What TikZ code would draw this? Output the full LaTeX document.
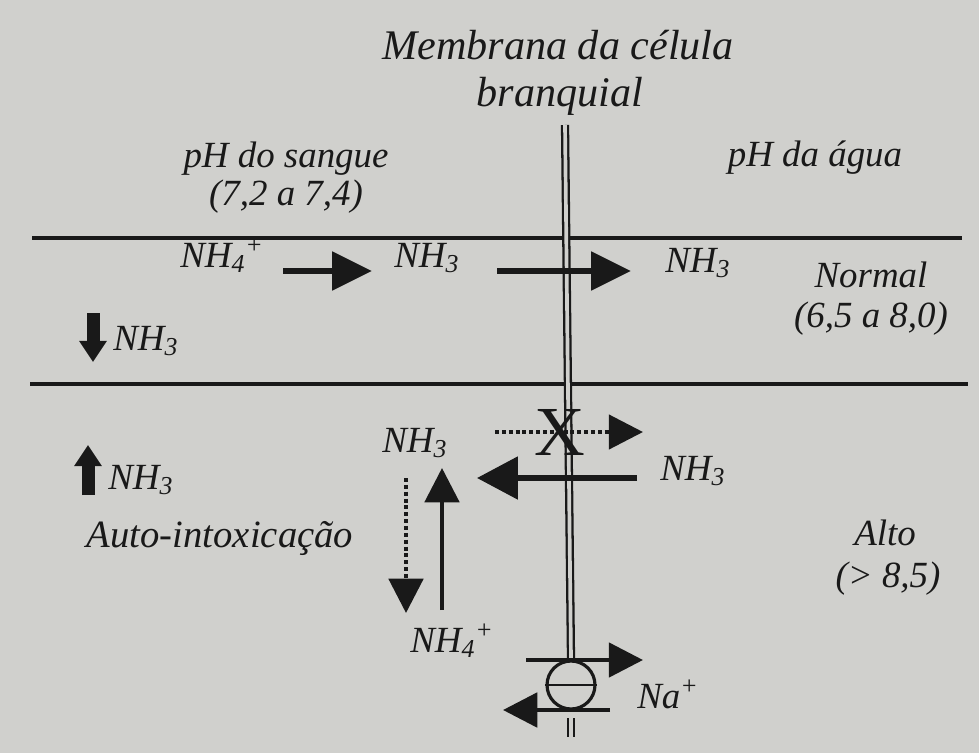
\documentclass[tikz,border=0pt]{standalone}
\usepackage{fontspec}
\setmainfont{Liberation Serif}
\usetikzlibrary{arrows.meta}
\definecolor{paper}{RGB}{208,208,205}
\definecolor{ink}{RGB}{25,25,25}
\begin{document}
\begin{tikzpicture}[x=0.02cm,y=-0.02cm]
  \tikzset{lbl/.style={text=ink, inner sep=0pt, anchor=base, font=\fontsize{21}{24}\selectfont\itshape},
    head/.style={lbl, font=\fontsize{24}{28}\selectfont\itshape},
    bigarrow/.style={draw=ink, line width=3.4pt, -{Triangle[length=22.7pt,width=21.5pt]}},
    blockarrow/.style={draw=ink, line width=7.4pt, -{Triangle[length=12pt,width=15pt]}},
    midarrow/.style={draw=ink, line width=2.5pt, -{Triangle[length=19.5pt,width=19.5pt]}},
    dotarrow/.style={midarrow, line width=2.3pt, dash pattern=on 2.3pt off 1.6pt},
    membrane/.style={draw=ink, line width=1.3pt, double=paper, double distance=2.1pt},
    pumpc/.style={draw=ink, line width=1.8pt, circle, inner sep=0pt, minimum size=0.96cm}}
  \fill[paper] (0,0) rectangle (979,753);

  % compartments
  \draw[ink, line width=1.8pt] (32,238) -- (962,238);
  \draw[ink, line width=1.8pt] (30,384) -- (968,384);

  \node[pumpc] at (571,685) (pump) {};
  \coordinate (memtop) at (565,125);
  \coordinate (membot) at (571,718);
  \coordinate (memend) at (571,737);
  \draw[membrane] (memtop) -- (pump.north);
  \draw[membrane] (membot) -- (memend);
  \draw[ink, line width=1.6pt] (pump.west) -- (pump.east);

  \node[head] at (558,60) (memb1) {Membrana da célula};
  \node[head] at (560,107) (memb2) {branquial};
  \node[lbl] at (286,168) (sangue) {pH do sangue};
  \node[lbl] at (286,205) (sangueph) {(7,2 a 7,4)};
  \node[lbl] at (815,167) (agua) {pH da água};

  % pH normal
  \node[lbl, anchor=base west] at (180,267) (nh4a) {NH\textsubscript{4}\textsuperscript{+}};
  \node[lbl, anchor=base west] at (394,267) (nh3a) {NH\textsubscript{3}};
  \node[lbl, anchor=base west] at (665,272) (nh3b) {NH\textsubscript{3}};
  \node[lbl] at (871,287) (normal) {Normal};
  \node[lbl] at (871,327) (normalph) {(6,5 a 8,0)};
  \node[lbl, anchor=base west] at (113,350) (nh3c) {NH\textsubscript{3}};
  \coordinate (a1) at (283,271);
  \coordinate (b1) at (372,271);
  \coordinate (a2) at (497,271);
  \coordinate (b2) at (631,271);
  \coordinate (a3) at (93,313);
  \coordinate (b3) at (93,362);
  \draw[bigarrow] (a1) -- (b1);
  \draw[bigarrow] (a2) -- (b2);
  \draw[blockarrow] (a3) -- (b3);

  % pH alto
  \node[lbl, anchor=base west] at (382,452) (nh3d) {NH\textsubscript{3}};
  \node[lbl, anchor=base west] at (660,480) (nh3e) {NH\textsubscript{3}};
  \node[lbl, anchor=base west] at (108,489) (nh3f) {NH\textsubscript{3}};
  \node[lbl, font=\fontsize{22}{24}\selectfont\itshape] at (220,547) (auto) {Auto-intoxicação};
  \node[lbl] at (885,545) (alto) {Alto};
  \node[lbl] at (888,587) (altoph) {(> 8,5)};
  \node[lbl, anchor=base west] at (410,652) (nh4b) {NH\textsubscript{4}\textsuperscript{+}};
  \node[lbl, anchor=base west] at (637,708) (na) {Na\textsuperscript{+}};
  \coordinate (a4) at (88,495);
  \coordinate (b4) at (88,445);
  \coordinate (a5) at (495,432);
  \coordinate (b5) at (643,432);
  \coordinate (a6) at (637,478);
  \coordinate (b6) at (477,478);
  \coordinate (a7) at (442,610);
  \coordinate (b7) at (442,468);
  \coordinate (a8) at (406,478);
  \coordinate (b8) at (406,613);
  \coordinate (a9) at (526,660);
  \coordinate (b9) at (643,660);
  \coordinate (a10) at (610,710);
  \coordinate (b10) at (503,710);
  \draw[blockarrow] (a4) -- (b4);
  \draw[dotarrow] (a5) -- (b5);
  \draw[bigarrow, line width=3.1pt, -{Triangle[length=23.2pt,width=23.8pt]}] (a6) -- (b6);
  \draw[midarrow, line width=2.3pt] (a7) -- (b7);
  \draw[dotarrow] (a8) -- (b8);
  \draw[midarrow] (a9) -- (b9);
  \draw[midarrow] (a10) -- (b10);
  \node[text=ink, inner sep=0pt, font=\fontsize{40}{40}\selectfont] at (560,432) (block) {X};
\end{tikzpicture}
\end{document}
